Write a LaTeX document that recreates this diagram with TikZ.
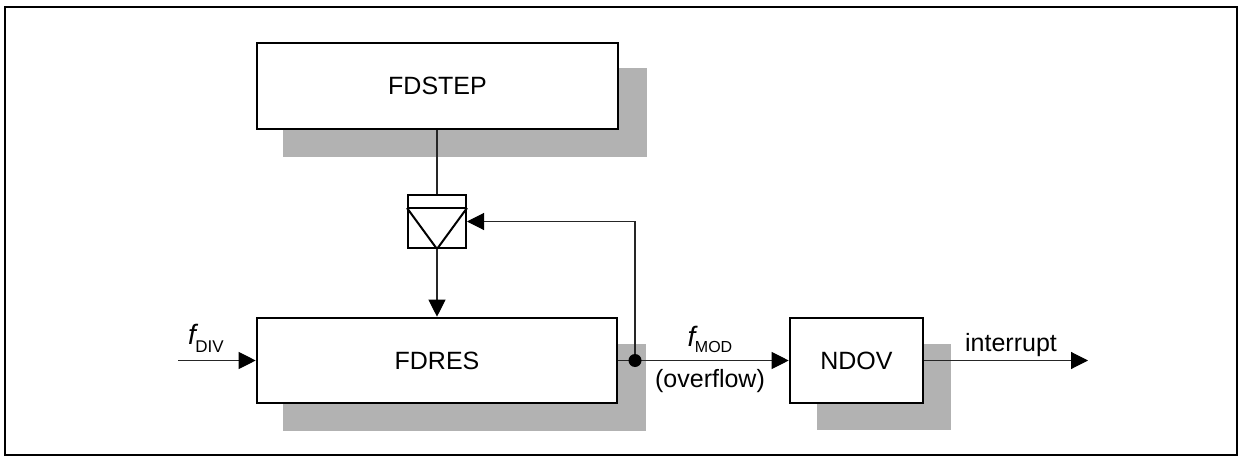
\documentclass[tikz,border=0pt]{standalone}
\usepackage{fontspec}
\setmainfont{Liberation Sans}
\usetikzlibrary{arrows.meta,calc}
\begin{document}
\begin{tikzpicture}[x=1pt,y=-1pt,
  blk/.style={draw=black,line width=2.6pt,fill=white,inner sep=0pt,font=\fontsize{25}{28}\selectfont},
  shd/.style={fill=black!30,draw=none},
  wire/.style={line width=1.1pt,draw=black!85},
  arr/.style={wire,-{Triangle[length=17pt,width=17pt,color=black]}},
  lbl/.style={font=\fontsize{25}{28}\selectfont,inner sep=0pt},
  every node/.style={inner sep=0pt}]
\useasboundingbox (0,0) rectangle (1240,460);
\draw[line width=2.8pt] (5,7) rectangle (1237,455);
% shadows
\fill[shd] (283,68) rectangle (647,157);
\fill[shd] (283,344) rectangle (646,431);
\fill[shd] (817,344) rectangle (951,430);
% blocks
\node[blk,minimum width=361pt,minimum height=86pt] (fdstep) at (437.5,86) {FDSTEP};
\node[blk,minimum width=360pt,minimum height=85pt] (fdres) at (437,360.5) {FDRES};
\node[blk,minimum width=133pt,minimum height=85pt] (ndov) at (856.5,360.5) {NDOV};
% triangle box
\node[draw,line width=2pt,fill=white,minimum width=58pt,minimum height=53pt] (trig) at (437,221.5) {};
\draw[line width=2pt] ($(trig.north west)+(0,14)$) -- ($(trig.north east)+(0,14)$);
\draw[line width=2pt,line join=miter] ($(trig.north west)+(0,14)$) -- (trig.south) -- ($(trig.north east)+(0,14)$);
% connectors
\draw[wire] (fdstep.south -| trig.north) -- (trig.north);
\draw[arr] (trig.south) -- (fdres.north -| trig.south);
\coordinate (fin) at (178,360.5);
\draw[arr] (fin) -- (fdres.west);
\coordinate (dot) at (635,360.5);
\coordinate (fbc) at (635,221.5);
\draw[wire] (fdres.east) -- (dot);
\draw[arr] (dot) -- (ndov.west);
\draw[arr] (dot) -- (fbc) -- (trig.east);
\fill (dot) circle (6.5pt);
\coordinate (iout) at (1088,360.5);
\draw[arr] (ndov.east) -- (iout);
% labels
\node[lbl,anchor=base] (ldiv) at (206,344) {{\fontsize{28}{30}\selectfont\textit{f}}\kern-3pt\raisebox{-8pt}{\fontsize{17}{18}\selectfont DIV}};
\node[lbl,anchor=base] (lmod) at (710,346) {{\fontsize{28}{30}\selectfont\textit{f}}\kern-3pt\raisebox{-6pt}{\fontsize{16}{18}\selectfont MOD}};
\node[lbl,anchor=base] (lovf) at (710,387) {(overflow)};
\node[lbl,anchor=base] (lint) at (1011,351) {interrupt};
\end{tikzpicture}
\end{document}
